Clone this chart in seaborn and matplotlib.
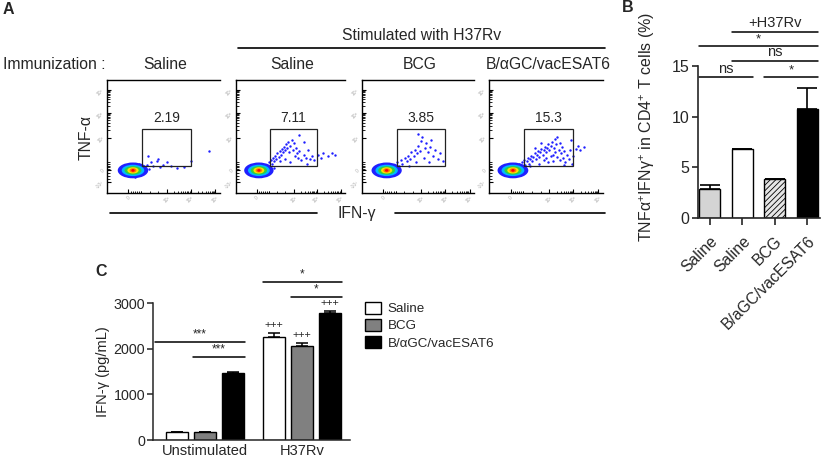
import numpy as np
import pandas as pd
import matplotlib
matplotlib.use("Agg")
import matplotlib.pyplot as plt
import seaborn as sns
from matplotlib.patches import Rectangle, Ellipse
from matplotlib.lines import Line2D

sns.set_theme(style="ticks")
plt.rcParams["font.family"] = ["Liberation Sans", "DejaVu Sans"]
plt.rcParams["mathtext.default"] = "regular"
plt.rcParams["hatch.linewidth"] = 0.6

# ---------------- data ----------------
flow_titles = ["Saline", "Saline", "BCG", "B/αGC/vacESAT6"]
flow_gate_pct = ["2.19", "7.11", "3.85", "15.3"]
flow_points = [
    [(14,19),(16,22),(17,17),(18,24),(19,15),(20,21),(21,25),(22,16),(23,23),(24,18),
     (25,14),(26,24),(27,20),(28,26),(29,17),(30,22),(31,19),(33,23),(35,25),(37,21),
     (39,27),(41,24),(44,28),(47,23),(50,25),(53,27),(57,24),(62,22),(68,23),(74,28),
     (90,37),(36,33),(45,30)],
    [(14,20),(16,23),(18,17),(20,24),(22,16),(25,22),(27,25),(28,19),(30,27),(31,23),
     (32,29),(33,26),(34,31),(35,28),(36,33),(37,30),(38,35),(39,32),(40,37),(41,34),
     (42,39),(43,36),(44,41),(45,38),(46,43),(47,40),(48,45),(49,36),(50,42),(51,47),
     (52,38),(53,44),(54,33),(55,40),(56,35),(57,31),(58,37),(60,29),(62,34),(64,31),
     (66,38),(68,30),(70,33),(72,29),(75,34),(78,31),(80,35),(84,33),(88,35),(91,34),
     (58,51),(62,45),(45,30),(40,28),(50,27),(35,22),(65,26)],
    [(15,20),(17,23),(19,17),(21,24),(23,16),(26,22),(28,25),(30,20),(31,27),(33,24),
     (35,29),(36,26),(38,31),(40,28),(41,33),(43,30),(44,36),(46,33),(47,38),(49,35),
     (50,42),(52,37),(53,46),(54,50),(56,40),(57,44),(59,36),(61,41),(63,33),(65,38),
     (68,30),(70,35),(72,28),(48,27),(55,31),(42,24),(62,47),(50,52),(60,27)],
    [(15,20),(17,23),(19,17),(21,25),(23,16),(25,22),(26,26),(27,24),(28,20),(29,27),
     (30,23),(31,29),(32,25),(33,28),(34,31),(35,26),(36,30),(37,33),(38,28),(39,32),
     (40,35),(41,30),(42,34),(43,37),(44,32),(45,36),(46,39),(47,34),(48,38),(49,41),
     (50,36),(51,40),(52,43),(53,38),(54,42),(55,45),(56,34),(57,40),(58,36),(59,43),
     (60,32),(61,38),(62,29),(63,35),(64,41),(65,31),(66,37),(67,27),(68,34),(70,30),
     (71,38),(72,47),(74,33),(76,39),(78,42),(80,38),(83,41),(44,26),(48,29),(52,27),
     (56,28),(40,40),(36,24),(46,44),(58,48),(62,44),(66,25),(73,26),(60,50),(50,31),
     (54,33)],
]
blob_centers = [(23, 20), (21, 20), (22, 20), (21, 20)]

b_ids = ["Saline", "Saline+H37Rv", "BCG+H37Rv", "BaGC+H37Rv"]
b_ticklabels = ["Saline", "Saline", "BCG", "B/aGC/vacESAT6"]
b_values = [2.85, 6.8, 3.8, 10.8]
b_err = [0.45, 0.05, 0.08, 2.05]

c_conditions = ["Unstimulated", "H37Rv"]
c_groups = ["Saline", "BCG", "B/αGC/vacESAT6"]
c_unstim = [175, 170, 1460]
c_h37rv = [2265, 2055, 2785]
c_err_unstim = [10, 10, 35]
c_err_h37rv = [85, 75, 40]

# ---------------- figure ----------------
W, H = 829, 469
fig = plt.figure(figsize=(W / 100, H / 100), dpi=100)
fig.patch.set_facecolor("white")


def ax_px(l, t, r, b):
    return fig.add_axes([l / W, 1 - b / H, (r - l) / W, (b - t) / H])


def ftext(x, y, s, **kw):
    fig.text(x / W, 1 - y / H, s, **kw)


def fline(x0, x1, y):
    fig.add_artist(Line2D([x0 / W, x1 / W], [1 - y / H, 1 - y / H],
                          color="black", lw=1.2, transform=fig.transFigure))


# ---------- Panel A ----------
flow_px = [(107, 220), (236, 345), (362, 474), (489, 603)]
blob_layers = [(27, 14, "#2020ff"), (20, 10, "#00b8ff"), (15, 7.5, "#30d040"),
               (10, 5.5, "#ffe000"), (6, 3.8, "#ff7a00"), (3, 2.4, "#ff0000")]
ymaj = [10, 20, 49, 71, 91]
ylab = ["-10³", "0", "10³", "10⁴", "10⁵"]
xmaj = [19, 53, 74, 96]
xlab = ["0", "10³", "10⁴", "10⁵"]
dec = np.log10(np.arange(2, 10))
yminor = np.concatenate([49 + 22 * dec, 71 + 20 * dec, np.linspace(20, 27, 6), np.linspace(12, 20, 4)])
xminor = np.concatenate([53 + 21 * dec, 74 + 22 * dec, np.linspace(19, 30, 7), np.linspace(30, 53, 4)])

for i, (l, r) in enumerate(flow_px):
    ax = ax_px(l, 80, r, 193)
    pts = np.array(flow_points[i])
    sns.scatterplot(x=pts[:, 0], y=pts[:, 1], ax=ax, s=3, color="#1e1eff",
                    linewidth=0, legend=False, zorder=2)
    cx, cy = blob_centers[i]
    for w_, h_, col in blob_layers:
        ax.add_patch(Ellipse((cx, cy), w_, h_, facecolor=col, edgecolor="none", zorder=3))
    ax.add_patch(Rectangle((31, 24), 43, 33, fill=False, lw=0.9, edgecolor="#222222", zorder=4))
    ax.text(52.5, 60, flow_gate_pct[i], ha="center", va="bottom", fontsize=10)
    ax.set_xlim(0, 100)
    ax.set_ylim(0, 100)
    ax.spines["right"].set_visible(False)
    for s in ["top", "left", "bottom"]:
        ax.spines[s].set_linewidth(1.0)
        ax.spines[s].set_color("black")
    ax.set_yticks(ymaj)
    ax.set_yticklabels(ylab, fontsize=3.5, color="#aaaaaa", rotation=45)
    ax.set_xticks(xmaj)
    ax.set_xticklabels(xlab, fontsize=3.5, color="#aaaaaa", rotation=45)
    ax.set_yticks(yminor, minor=True)
    ax.set_xticks(xminor, minor=True)
    ax.tick_params(which="major", direction="in", length=3, width=0.8, pad=1.5, colors="black",
                   labelcolor="#aaaaaa")
    ax.tick_params(which="minor", direction="in", length=1.8, width=0.6, colors="black")
    ax.set_xlabel("")
    ax.set_ylabel("")
    ax.set_facecolor("white")

ftext(3, 10, "A", fontsize=11.5, fontweight="bold", ha="left", va="center")
ftext(3, 64.5, "Immunization :", fontsize=11.3, ha="left", va="center")
ftext(421.5, 36, "Stimulated with H37Rv", fontsize=11.3, ha="center", va="center")
fline(238, 605, 48)
for i, (l, r) in enumerate(flow_px):
    ftext((l + r) / 2 + 2, 64.5, flow_titles[i], fontsize=11.3, ha="center", va="center")
ftext(86, 138, "TNF-α", fontsize=11.3, ha="center", va="center", rotation=90)
ftext(357, 213, "IFN-γ", fontsize=11.3, ha="center", va="center")
fline(110, 317, 213)
fline(395, 605, 213)

# ---------- Panel B ----------
axB = ax_px(698, 66, 820, 218)
df_b = pd.DataFrame({"grp": b_ids, "val": b_values})
sns.barplot(data=df_b, x="grp", y="val", hue="grp", order=b_ids, hue_order=b_ids,
            palette=["#d4d4d4", "white", "#e6e6e6", "black"], width=0.65,
            edgecolor="black", linewidth=1.0, legend=False, ax=axB)
axB.patches[2].set_hatch("//////")
axB.errorbar(np.arange(len(b_values)), b_values, yerr=[np.zeros(len(b_err)), b_err],
             fmt="none", ecolor="black", elinewidth=1.2, capsize=7.2, capthick=1.2, zorder=5)
axB.set_xlim(-0.37, 3.4)
axB.set_ylim(0, 15)
axB.set_yticks([0, 5, 10, 15])
sns.despine(ax=axB)
axB.spines["left"].set_linewidth(1.2)
axB.spines["bottom"].set_linewidth(1.2)
axB.tick_params(axis="y", direction="out", length=4, width=1.2, labelsize=11.5, pad=2)
axB.tick_params(axis="x", direction="out", length=5, width=1.2, labelsize=11.3, pad=6)
axB.set_xticks(range(4))
axB.set_xticklabels(b_ticklabels, rotation=45, ha="right", rotation_mode="anchor", fontsize=11.3)
axB.set_xlabel("")
axB.set_ylabel("TNFα$^{+}$IFNγ$^{+}$ in CD4$^{+}$ T cells (%)", fontsize=11.5)
axB.yaxis.set_label_coords(-0.335, 0.60)


def bracket(ax, x0, x1, y, txt, fs, dy):
    ax.plot([x0, x1], [y, y], color="black", lw=1.1, clip_on=False)
    ax.text((x0 + x1) / 2, y + dy, txt, ha="center", va="bottom", fontsize=fs, clip_on=False)


hw = 0.325
bracket(axB, 0 - hw, 1 + hw, 13.9, "ns", 10.5, 0.15)
bracket(axB, 2 - hw, 3 + hw, 13.9, "*", 9.5, 0.05)
bracket(axB, 1 - hw, 3 + hw, 15.5, "ns", 10.5, 0.15)
bracket(axB, 0 - hw, 3 + hw, 17.0, "*", 9.5, 0.05)
bracket(axB, 1 - hw, 3 + hw, 18.4, "+H37Rv", 10.5, 0.2)
ftext(622, 8, "B", fontsize=11.5, fontweight="bold", ha="left", va="center")

# ---------- Panel C ----------
axC = ax_px(153, 303, 350, 440)
df_c = pd.DataFrame({
    "condition": np.repeat(c_conditions, len(c_groups)),
    "group": c_groups * len(c_conditions),
    "value": c_unstim + c_h37rv,
})
sns.barplot(data=df_c, x="condition", y="value", hue="group", order=c_conditions,
            hue_order=c_groups, palette=["white", "#808080", "black"], width=0.87, gap=0.2,
            edgecolor="black", linewidth=1.0, ax=axC)
bars = sorted(axC.patches[:6], key=lambda p: p.get_x())
cx = [p.get_x() + p.get_width() / 2 for p in bars]
c_all = c_unstim + c_h37rv
c_err_all = c_err_unstim + c_err_h37rv
axC.errorbar(cx, c_all, yerr=[np.zeros(6), c_err_all], fmt="none", ecolor="black",
             elinewidth=1.1, capsize=4.5, capthick=1.1, zorder=5)
axC.set_xlim(-0.536, 1.495)
axC.set_ylim(0, 3000)
axC.set_yticks([0, 1000, 2000, 3000])
sns.despine(ax=axC)
axC.spines["left"].set_linewidth(1.1)
axC.spines["bottom"].set_linewidth(1.1)
axC.tick_params(axis="y", direction="out", length=4, width=1.1, labelsize=10.3, pad=1.5)
axC.tick_params(axis="x", length=0, labelsize=10.5, pad=3)
axC.set_xlabel("")
axC.set_ylabel("IFN-γ (pg/mL)", fontsize=10.5, labelpad=3)

bracket(axC, -0.515, 0.412, 2150, "***", 8.5, 40)
bracket(axC, -0.124, 0.412, 1810, "***", 8.5, 40)
bracket(axC, 0.598, 1.412, 3455, "*", 8.5, 30)
bracket(axC, 0.887, 1.412, 3140, "*", 8.5, 30)
for j in range(3, 6):
    axC.text(cx[j], c_all[j] + c_err_all[j] + 60, "+++", ha="center", va="bottom", fontsize=7.8)

sns.move_legend(axC, "upper left", bbox_to_anchor=(1.075, 1.01), frameon=False, title=None,
                fontsize=9.6, handlelength=1.2, handleheight=1.0, handletextpad=0.5,
                labelspacing=0.28, borderpad=0, borderaxespad=0)
ftext(95, 271, "C", fontsize=11.5, fontweight="bold", ha="left", va="center")

fig.savefig("out.png", dpi=100, facecolor="white")
